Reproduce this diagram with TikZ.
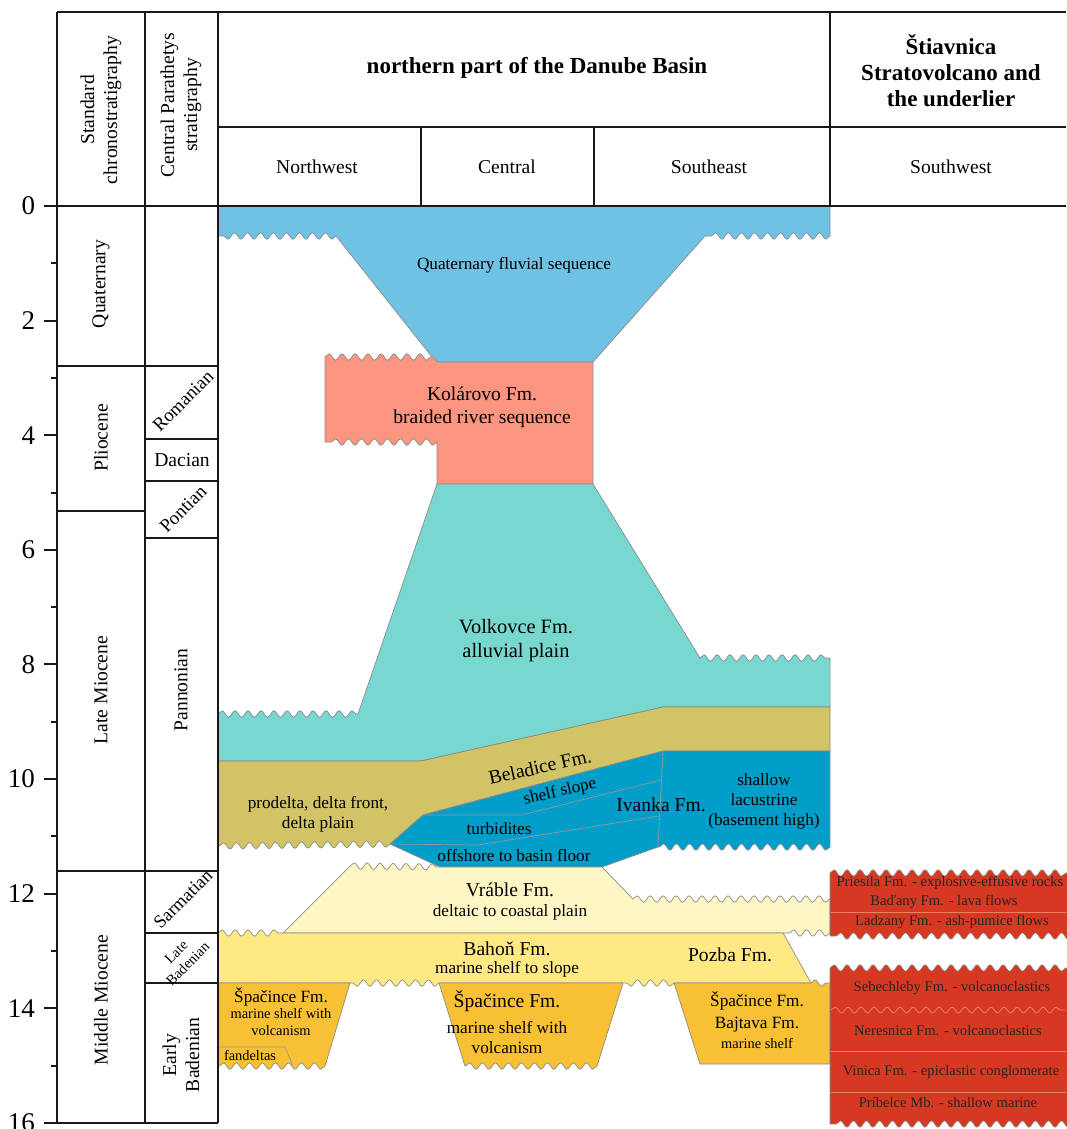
\documentclass[tikz,border=0pt]{standalone}
\usepackage{fontspec}
\setmainfont{Liberation Serif}
\usepackage{tikz}
\usetikzlibrary{decorations.pathmorphing}
\definecolor{quatblue}{RGB}{112,194,228}
\definecolor{kolarovo}{RGB}{250,150,128}
\definecolor{volkovce}{RGB}{120,216,208}
\definecolor{beladice}{RGB}{210,196,102}
\definecolor{ivanka}{RGB}{0,158,200}
\definecolor{vrable}{RGB}{255,246,198}
\definecolor{bahon}{RGB}{255,233,132}
\definecolor{spacince}{RGB}{248,192,52}
\definecolor{volcred}{RGB}{214,56,34}
\definecolor{volcline}{RGB}{240,128,96}
\tikzset{
  tabline/.style={line width=1pt, draw=black!90},
  layer/.style={draw=black!45, line width=0.35pt,
                decoration={snake, segment length=6.5pt, amplitude=1.6pt}},
  inner/.style={draw=black!40, line width=0.35pt},
  lbl/.style={font=\fontsize{9.8}{11.5}\selectfont, align=center, inner sep=0pt},
  lblS/.style={font=\fontsize{8.6}{10}\selectfont, align=center, inner sep=0pt},
  lblXS/.style={font=\fontsize{7.2}{8.2}\selectfont, align=center, inner sep=0pt},
  head/.style={font=\bfseries\fontsize{11.5}{13}\selectfont, align=center, inner sep=0pt},
  ticklbl/.style={font=\fontsize{13.5}{15}\selectfont, inner sep=0pt},
  volc/.style={font=\fontsize{7.3}{8}\selectfont, text=black!85, inner sep=0pt},
}

\begin{document}
\begin{tikzpicture}[x=0.5pt, y=-0.5pt]
  \useasboundingbox (0,0) rectangle (1066,1129);

  % --- Layers: Danube Basin ---
  \filldraw[layer, fill=quatblue] (218,206) -- (830,206) -- (830,236)
    decorate{-- (705,236)} -- (593,362) -- (436,362) -- (336,236)
    decorate{-- (218,236)} -- cycle;
  \filldraw[layer, fill=kolarovo] (325,357) decorate{-- (434,357)}
    -- (437,362) -- (593,362) -- (593,484) -- (437,484) -- (437,442)
    decorate{-- (325,442)} -- cycle;
  \filldraw[layer, fill=volkovce] (437,484) -- (593,484) -- (700,658)
    decorate{-- (830,658)} -- (830,707) -- (663,707) -- (421,761)
    -- (218,761) -- (218,714) decorate{-- (358,714)} -- cycle;
  \filldraw[layer, fill=beladice] (218,761) -- (421,761) -- (663,707)
    -- (830,707) -- (830,751) -- (663,751) -- (423,815) -- (390,844)
    decorate{-- (218,846)} -- cycle;
  \filldraw[layer, fill=ivanka] (390,844) -- (423,815) -- (663,751)
    -- (830,751) -- (830,847) decorate{-- (658,847)} -- (602,867)
    -- (440,867) -- cycle;
  \draw[inner] (423,815) -- (522,815) -- (661,780);
  \draw[inner] (390,844) -- (478,845) -- (659,816);
  \draw[inner] (663,751) -- (658,847);
  \filldraw[layer, fill=vrable] (283,933) -- (350,866)
    decorate{-- (440,867)} -- (602,867) -- (633,899)
    decorate{-- (830,899)} -- (830,933) decorate{-- (783,933)} -- cycle;
  \filldraw[layer, fill=bahon] (218,933) decorate{-- (283,933)}
    -- (783,933) -- (811,983) -- (674,983) decorate{-- (623,983)}
    -- (439,983) decorate{-- (350,983)} -- (218,983) -- cycle;
  \filldraw[layer, fill=spacince] (218,983) -- (350,983) -- (325,1066)
    decorate{-- (218,1066)} -- cycle;
  \draw[inner] (218,1047) -- (285,1047) -- (293,1066);
  \filldraw[layer, fill=spacince] (439,983) -- (623,983) -- (597,1066)
    decorate{-- (465,1066)} -- cycle;
  \filldraw[layer, fill=spacince] (674,983) -- (811,983)
    decorate{-- (830,983)} -- (830,1064) -- (700,1064) -- cycle;

  % --- Layers: Stiavnica Stratovolcano ---
  \filldraw[layer, fill=volcred] (830,873) decorate{-- (1072,873)}
    -- (1072,936) decorate{-- (830,936)} -- cycle;
  \draw[volcline, line width=0.4pt] (831,912) -- (1066,912);
  \filldraw[layer, fill=volcred] (830,968) decorate{-- (1072,968)}
    -- (1072,1124) decorate{-- (830,1124)} -- cycle;
  \draw[volcline, line width=0.4pt, decoration={snake, segment length=6.5pt,
    amplitude=1.4pt}, decorate] (831,1010) -- (1066,1010);
  \draw[volcline, line width=0.4pt] (831,1051) -- (1066,1051);
  \draw[volcline, line width=0.4pt] (831,1092) -- (1066,1092);

  % --- Table ---
  \draw[tabline] (57,12) -- (1066,12);
  \draw[tabline] (218,127) -- (1066,127);
  \draw[tabline] (44,206) -- (1066,206);
  \draw[tabline] (44,1123) -- (218,1123);
  \draw[tabline] (57,12) -- (57,1123);
  \draw[tabline] (145,12) -- (145,1123);
  \draw[tabline] (218,12) -- (218,1123);
  \draw[tabline] (830,12) -- (830,206);
  \draw[tabline] (421,127) -- (421,206);
  \draw[tabline] (594,127) -- (594,206);
  \foreach \y in {366,511,871}
    \draw[tabline] (57,\y) -- (145,\y);
  \foreach \y in {366,439,481,538,933,983}
    \draw[tabline] (145,\y) -- (218,\y);
  \draw[tabline] (145,871) -- (218,871);

  % --- Age axis ---
  \foreach \t in {0,2,...,16}
    \draw[tabline] (57,{206+57.3*\t}) -- (44,{206+57.3*\t})
      node[ticklbl, left=4pt] (ma\t) {\t};
  \foreach \t in {1,3,...,15}
    \draw[tabline] (57,{206+57.3*\t}) -- (51,{206+57.3*\t});

  % --- Headers ---
  \node[lbl, rotate=90] (hdStd) at (101,110) {Standard\\chronostratigraphy};
  \node[lbl, rotate=90] (hdCps) at (181,105) {Central Parathetys\\stratigraphy};
  \node[head] (hdDanube) at (537,68) {northern part of the Danube Basin};
  \node[head] (hdStiav) at (951,71) {Štiavnica\\Stratovolcano and\\the underlier};
  \node[lbl] (hdNW) at (317,167) {Northwest};
  \node[lbl] (hdCe) at (507,167) {Central};
  \node[lbl] (hdSE) at (709,167) {Southeast};
  \node[lbl] (hdSW) at (951,167) {Southwest};

  % --- Stratigraphic units ---
  \node[lbl, rotate=90] (quat) at (101,284) {Quaternary};
  \node[lbl, rotate=90] (plio) at (101,438) {Pliocene};
  \node[lbl, rotate=90] (lmio) at (101,690) {Late Miocene};
  \node[lbl, rotate=90] (mmio) at (101,1000) {Middle Miocene};
  \node[lbl, font=\fontsize{9.4}{11}\selectfont, rotate=45] (roma) at (183,401) {Romanian};
  \node[lbl] (daci) at (182,460) {Dacian};
  \node[lbl, font=\fontsize{9.4}{11}\selectfont, rotate=45] (pont) at (183,509) {Pontian};
  \node[lbl, rotate=90] (pann) at (181,690) {Pannonian};
  \node[lbl, font=\fontsize{9.2}{11}\selectfont, rotate=45] (sarm) at (183,899) {Sarmatian};
  \node[lblXS, rotate=45] (lbad) at (182,958) {Late\\Badenian};
  \node[lbl, rotate=90] (ebad) at (181,1055) {Early\\Badenian};

  % --- Formation labels ---
  \node[lblS] (quatTxt) at (514,265) {Quaternary fluvial sequence};
  \node[lbl] (kolTxt) at (482,407) {Kolárovo Fm.\\braided river sequence};
  \node[lbl, font=\fontsize{10.2}{12}\selectfont] (volTxt) at (516,641) {Volkovce Fm.\\alluvial plain};
  \node[lbl, rotate=12.5] (belTxt) at (540,767) {Beladice Fm.};
  \node[lblS] (prodTxt) at (318,814) {prodelta, delta front,\\delta plain};
  \node[lblS, rotate=13] (shelfTxt) at (560,792) {shelf slope};
  \node[lblS] (turbTxt) at (499,829) {turbidites};
  \node[lblS] (offTxt) at (514,856) {offshore to basin floor};
  \node[lbl] (ivaTxt) at (661,805) {Ivanka Fm.};
  \node[lblS] (lacTxt) at (764,801) {shallow\\lacustrine\\(basement high)};
  \node[lbl] (vraTxt) at (510,890) {Vráble Fm.};
  \node[lblS] (vraSub) at (510,912) {deltaic to coastal plain};
  \node[lbl] (bahTxt) at (507,949) {Bahoň Fm.};
  \node[lblS] (bahSub) at (507,969) {marine shelf to slope};
  \node[lbl] (pozTxt) at (730,955) {Pozba Fm.};
  \node[lblS] (spa1Txt) at (281,997) {Špačince Fm.};
  \node[lblXS] (spa1Sub) at (281,1022) {marine shelf with\\volcanism};
  \node[lblXS] (fanTxt) at (250,1055) {fandeltas};
  \node[lbl] (spa2Txt) at (507,1001) {Špačince Fm.};
  \node[lblS] (spa2Sub) at (507,1038) {marine shelf with\\volcanism};
  \node[lblS] (spa3Txt) at (757,1001) {Špačince Fm.};
  \node[lblS] (bajTxt) at (757,1025) {Bajtava Fm.};
  \node[lblXS] (bajSub) at (757,1043) {marine shelf};

  % --- Volcanic units ---
  \node[volc] (pri) at (950,883) {Priesila Fm. - explosive-effusive rocks};
  \node[volc] (bad) at (944,902) {Baďany Fm. - lava flows};
  \node[volc] (lad) at (952,922) {Ladzany Fm. - ash-pumice flows};
  \node[volc] (seb) at (952,988) {Sebechleby Fm. - volcanoclastics};
  \node[volc] (ner) at (948,1031) {Neresnica Fm. - volcanoclastics};
  \node[volc] (vin) at (951,1072) {Vinica Fm. - epiclastic conglomerate};
  \node[volc] (pril) at (948,1103) {Príbelce Mb. - shallow marine};

\end{tikzpicture}
\end{document}
